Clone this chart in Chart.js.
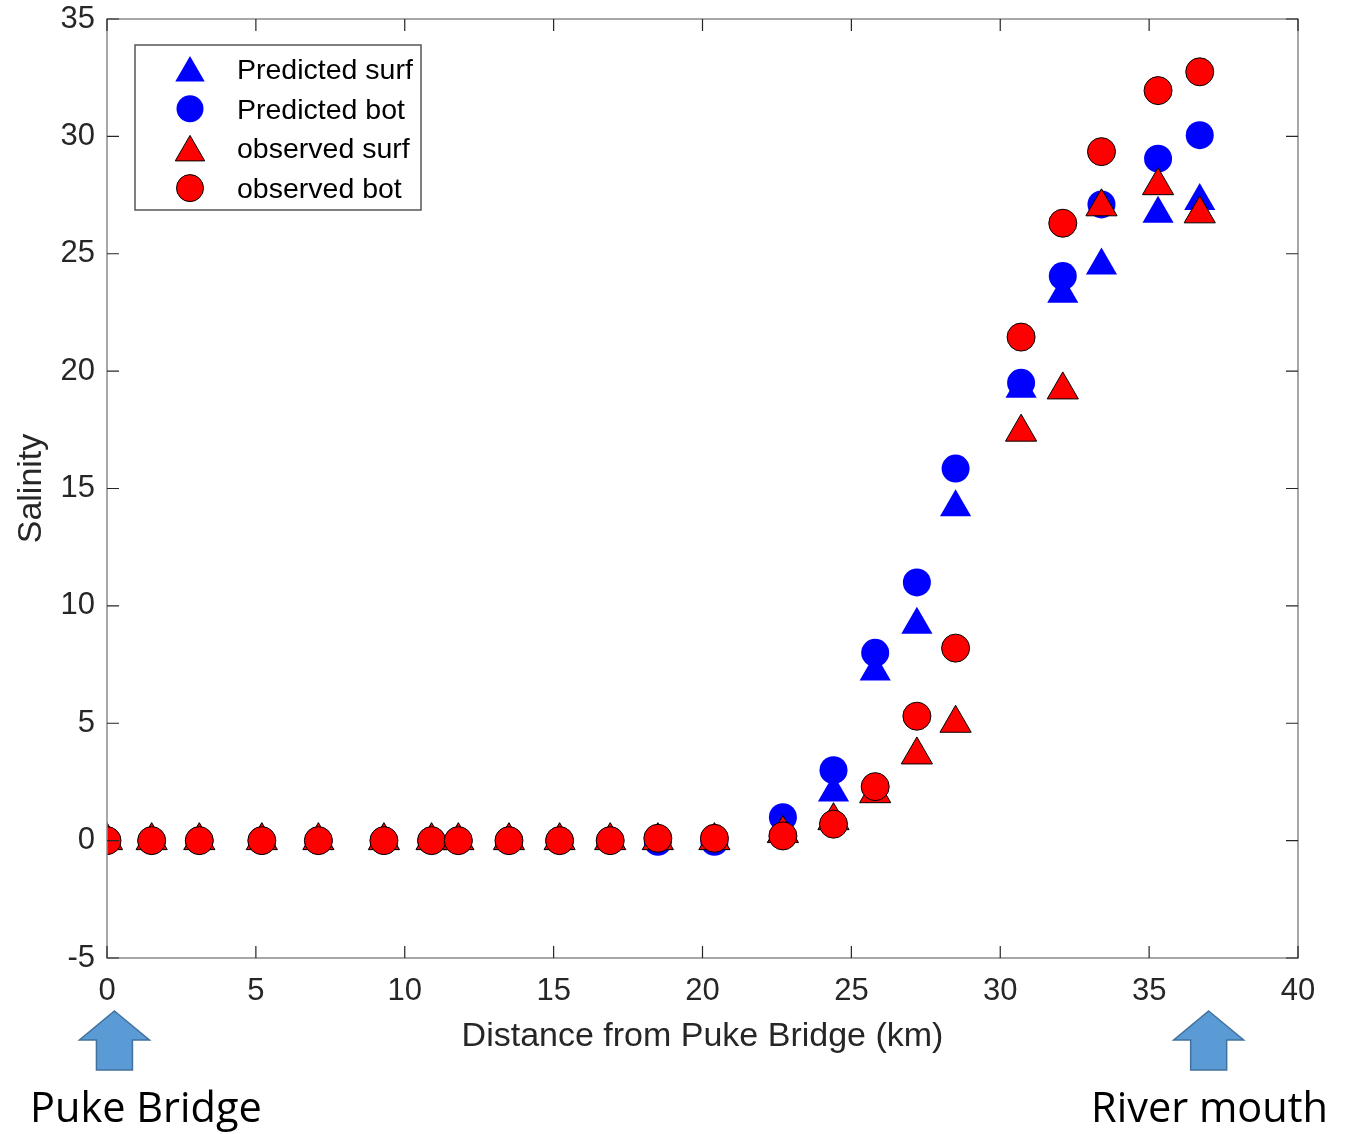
<!DOCTYPE html>
<html>
<head>
<meta charset="utf-8">
<script src="https://cdn.jsdelivr.net/npm/chart.js@4.4.1/dist/chart.umd.min.js"></script>
<style>
  html, body { margin: 0; padding: 0; background: #fff; }
  #wrap { width: 1353px; height: 1134px; }
</style>
</head>
<body>
<div id="wrap"><canvas id="salinity" width="1353" height="1134"></canvas></div>
<script>
// distance from Puke Bridge (km)
var distKm = [0, 1.5, 3.1, 5.2, 7.1, 9.3, 10.9, 11.8, 13.5, 15.2, 16.9, 18.5, 20.4,
              22.7, 24.4, 25.8, 27.2, 28.5, 30.7, 32.1, 33.4, 35.3, 36.7];
var predSurf = [0, 0, 0, 0, 0, 0, 0, 0, 0, 0, 0, 0, 0,
                0.3, 2.05, 7.2, 9.2, 14.2, 19.25, 23.3, 24.5, 26.7, 27.25];
var predBot  = [0, 0, 0, 0, 0, 0, 0, 0, 0, 0, 0, -0.05, -0.05,
                1.0, 3.0, 8.0, 11.0, 15.85, 19.5, 24.05, 27.1, 29.05, 30.05];
var obsSurf  = [0, 0, 0, 0, 0, 0, 0, 0, 0, 0, 0, 0, 0,
                0.3, 0.85, 2.0, 3.65, 5.0, 17.4, 19.2, 27.0, 27.9, 26.7];
var obsBot   = [0, 0, 0, 0, 0, 0, 0, 0, 0, 0, 0, 0.1, 0.1,
                0.2, 0.7, 2.3, 5.3, 8.2, 21.45, 26.3, 29.35, 31.95, 32.75];
var xTicks = [0, 5, 10, 15, 20, 25, 30, 35, 40];
var yTicks = [-5, 0, 5, 10, 15, 20, 25, 30, 35];

var axisColor = '#262626';
var tickFont = { family: 'Liberation Sans, Arial, sans-serif', size: 31 };
var titleFont = { family: 'Liberation Sans, Arial, sans-serif', size: 34 };

function pts(ys){
	return distKm.map(function(x, i){ return { x: x, y: ys[i] }; });
}

var series = [
	{ label: 'Predicted surf', data: pts(predSurf), pointStyle: 'triangle', pointRadius: 18,
	  backgroundColor: '#0000ff', borderColor: '#0000ff', borderWidth: 0, order: 3 },
	{ label: 'Predicted bot', data: pts(predBot), pointStyle: 'circle', pointRadius: 14,
	  backgroundColor: '#0000ff', borderColor: '#0000ff', borderWidth: 0, order: 2 },
	{ label: 'observed surf', data: pts(obsSurf), pointStyle: 'triangle', pointRadius: 18,
	  backgroundColor: '#ff0000', borderColor: '#000000', borderWidth: 1, order: 1 },
	{ label: 'observed bot', data: pts(obsBot), pointStyle: 'circle', pointRadius: 14,
	  backgroundColor: '#ff0000', borderColor: '#000000', borderWidth: 1, order: 0 }
];
series.forEach(function(s){
	s.showLine = false;
	s.pointHoverRadius = s.pointRadius;
	s.pointBorderWidth = s.borderWidth;
});

// box around the axes, ticks pointing inward, and the legend inside the plot
var matlabBox = {
	id: 'matlabBox',
	afterDatasetsDraw: function(chart){
		var ctx = chart.ctx, a = chart.chartArea;
		var xs = chart.scales.x, ys = chart.scales.y;
		ctx.save();
		ctx.strokeStyle = '#8a8a8a';
		ctx.lineWidth = 1.5;
		ctx.strokeRect(a.left, a.top, a.right - a.left, a.bottom - a.top);
		ctx.strokeStyle = axisColor;
		ctx.lineWidth = 1.2;
		ctx.beginPath();
		xTicks.forEach(function(v){
			var px = xs.getPixelForValue(v);
			ctx.moveTo(px, a.bottom); ctx.lineTo(px, a.bottom - 12);
			ctx.moveTo(px, a.top); ctx.lineTo(px, a.top + 12);
		});
		yTicks.forEach(function(v){
			var py = ys.getPixelForValue(v);
			ctx.moveTo(a.left, py); ctx.lineTo(a.left + 12, py);
			ctx.moveTo(a.right, py); ctx.lineTo(a.right - 12, py);
		});
		ctx.stroke();

		// legend
		var lx = a.left + 28, ly = a.top + 26, lw = 286, lh = 165;
		ctx.fillStyle = '#fff';
		ctx.fillRect(lx, ly, lw, lh);
		ctx.strokeStyle = '#555';
		ctx.lineWidth = 1.5;
		ctx.strokeRect(lx, ly, lw, lh);
		ctx.font = '28.5px Liberation Sans, Arial, sans-serif';
		ctx.textBaseline = 'middle';
		series.forEach(function(s, i){
			var cy = ly + 24 + i * 39.7;
			var cx = lx + 55;
			ctx.fillStyle = s.backgroundColor;
			ctx.strokeStyle = s.borderColor;
			ctx.lineWidth = s.borderWidth || 0.01;
			if (s.pointStyle === 'triangle') {
				Chart.helpers.drawPoint(ctx, { pointStyle: 'triangle', radius: 17, borderWidth: s.borderWidth }, cx, cy + 4);
			} else {
				Chart.helpers.drawPoint(ctx, { pointStyle: 'circle', radius: 13.5, borderWidth: s.borderWidth }, cx, cy);
			}
			ctx.fillStyle = '#000';
			ctx.fillText(s.label, lx + 102, cy + 2);
		});
		ctx.restore();
	},
	afterDraw: function(chart){
		var ctx = chart.ctx;
		var xs = chart.scales.x;
		ctx.save();
		// blue arrows under the axis
		[xs.getPixelForValue(0.25), xs.getPixelForValue(37.0)].forEach(function(cx){
			var top = 1011, mid = 1040, bot = 1070, hw = 35, sw = 18;
			ctx.beginPath();
			ctx.moveTo(cx, top);
			ctx.lineTo(cx + hw, mid);
			ctx.lineTo(cx + sw, mid);
			ctx.lineTo(cx + sw, bot);
			ctx.lineTo(cx - sw, bot);
			ctx.lineTo(cx - sw, mid);
			ctx.lineTo(cx - hw, mid);
			ctx.closePath();
			ctx.fillStyle = '#5b9bd5';
			ctx.fill();
			ctx.strokeStyle = '#41719c';
			ctx.lineWidth = 1.5;
			ctx.stroke();
		});
		ctx.fillStyle = '#000';
		ctx.textBaseline = 'alphabetic';
		ctx.font = '41.5px "Open Sans", "Noto Sans", sans-serif';
		ctx.textAlign = 'left';
		ctx.fillText('Puke Bridge', 30, 1122);
		ctx.textAlign = 'right';
		ctx.fillText('River mouth', 1328, 1122);
		ctx.restore();
	}
};

var config = {};
config.type = 'scatter';
config.data = { datasets: series };
config.options = {
	responsive: false,
	animation: false,
	events: [],
	layout: { padding: { left: 0, top: 19, right: 55, bottom: 76 } },
	plugins: {
		legend: { display: false },
		tooltip: { enabled: false }
	},
	scales: {
		x: {
			type: 'linear', min: 0, max: 40,
			afterFit: function(s){ s.height = 100; s.paddingLeft = 0; s.paddingRight = 0; },
			afterBuildTicks: function(s){ s.ticks = xTicks.map(function(v){ return { value: v }; }); },
			grid: { display: false, drawTicks: false },
			border: { display: false },
			ticks: { font: tickFont, color: axisColor, padding: 15, maxRotation: 0 },
			title: { display: true, text: 'Distance from Puke Bridge (km)', color: axisColor,
			         font: titleFont, padding: { top: 0, bottom: 1 } }
		},
		y: {
			type: 'linear', min: -5, max: 35,
			afterFit: function(s){ s.width = 107; s.paddingTop = 0; s.paddingBottom = 0; },
			afterBuildTicks: function(s){ s.ticks = yTicks.map(function(v){ return { value: v }; }); },
			grid: { display: false, drawTicks: false },
			border: { display: false },
			ticks: { font: tickFont, color: axisColor, padding: 12 },
			title: { display: true, text: 'Salinity', color: axisColor,
			         font: titleFont, padding: { top: 11, bottom: 0 } }
		}
	}
};
config.plugins = [matlabBox];

window.salinityChart = new Chart(document.getElementById('salinity'), config);
</script>
</body>
</html>
